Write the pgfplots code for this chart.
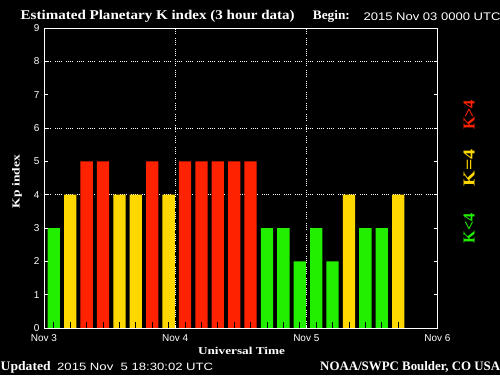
\documentclass[border=0pt]{standalone}
\usepackage{pgfplots}
\pgfplotsset{compat=1.18}
\usepackage{fontspec}
\setmainfont{Liberation Serif}
\setsansfont{Liberation Sans}
\definecolor{kgreen}{RGB}{34,238,0}
\definecolor{kyellow}{RGB}{255,216,0}
\definecolor{kred}{RGB}{255,34,0}
\pgfplotsset{gridl/.style={white, line width=0.9pt, dash pattern=on 0.9pt off 1.1pt on 0.9pt off 1.1pt on 0.9pt off 1.1pt on 0.9pt off 4pt}}
\begin{document}
\begin{tikzpicture}[x=1pt,y=1pt]
\fill[black] (0,0) rectangle (500,375);
\begin{axis}[
  at={(44pt,47pt)}, anchor=south west,
  scale only axis, width=393.5pt, height=300pt,
  xmin=0,xmax=24,ymin=0,ymax=9,
  axis on top,
  axis line style={white, line width=0.8pt},
  xtick={0,8,16,24}, xticklabels={Nov 3,Nov 4,Nov 5,Nov 6},
  ytick={0,...,9}, yticklabels={0,1,2,3,4,5,6,7,8,9},
  xtick pos=left, ytick pos=both,
  tick align=inside, major tick length=3.5pt,
  tick style={white, line width=0.8pt},
  ticklabel style={white, font=\sffamily\fontsize{10}{12}\selectfont},
  xticklabel style={yshift=-3pt},
  yticklabel style={xshift=-1pt},
  extra x ticks={0.6,1.6,2.6,3.6,4.6,5.6,6.6,7.6,8.6,9.6,10.6,11.6,12.6,13.6,14.6,15.6,16.6,17.6,18.6,19.6,20.6,21.6},
  extra x tick labels={},
  extra x tick style={tick style={black, line width=0.9pt}, major tick length=6pt},
]
\addplot[gridl, forget plot, mark=none] coordinates {(0,4)(24,4)};
\addplot[gridl, forget plot, mark=none] coordinates {(0,6)(24,6)};
\addplot[gridl, forget plot, mark=none] coordinates {(0,8)(24,8)};
\addplot[gridl, forget plot, mark=none] coordinates {(8,0)(8,9)};
\addplot[gridl, forget plot, mark=none] coordinates {(16,0)(16,9)};
\addplot[ybar, bar width=0.75, bar shift=0pt, fill=kgreen, draw=none] coordinates {(0.6,3)(13.6,3)(14.6,3)(15.6,2)(16.6,3)(17.6,2)(19.6,3)(20.6,3)};
\addplot[ybar, bar width=0.75, bar shift=0pt, fill=kyellow, draw=none] coordinates {(1.6,4)(4.6,4)(5.6,4)(7.6,4)(18.6,4)(21.6,4)};
\addplot[ybar, bar width=0.75, bar shift=0pt, fill=kred, draw=none] coordinates {(2.6,5)(3.6,5)(6.6,5)(8.6,5)(9.6,5)(10.6,5)(11.6,5)(12.6,5)};
\end{axis}
\node[anchor=base west, inner sep=0, white] at (20.5,355.7) {\resizebox{274pt}{9.3pt}{\bfseries Estimated Planetary K index (3 hour data)}};
\node[anchor=base west, inner sep=0, white] at (312.7,355.7) {\resizebox{37pt}{9pt}{\bfseries Begin:}};
\node[anchor=base west, inner sep=0, white] at (363.3,354) {\resizebox{137pt}{7.7pt}{\sffamily 2015 Nov 03 0000 UTC}};
\node[anchor=base west, inner sep=0, white] at (0.5,4.3) {\resizebox{50pt}{9pt}{\bfseries Updated}};
\node[anchor=base west, inner sep=0, white] at (57,4.3) {\resizebox{156pt}{7.4pt}{\sffamily 2015 Nov\ \ 5 18:30:02 UTC}};
\node[anchor=base west, inner sep=0, white] at (320,4.3) {\resizebox{180pt}{9pt}{\bfseries NOAA/SWPC Boulder, CO USA}};
\node[anchor=base, inner sep=0, white] at (241.5,21) {\resizebox{87pt}{7.3pt}{\bfseries Universal Time}};
\node[rotate=90, inner sep=0, white] at (17,193.5) {\resizebox{53pt}{7.5pt}{\bfseries Kp index}};
\node[rotate=90, inner sep=0, kred] at (469,260) {\resizebox{30pt}{11pt}{\bfseries K>4}};
\node[rotate=90, inner sep=0, kyellow] at (469,207) {\resizebox{37pt}{11pt}{\bfseries K=4}};
\node[rotate=90, inner sep=0, kgreen] at (469,147) {\resizebox{30pt}{11pt}{\bfseries K<4}};
\pgfresetboundingbox
\path[use as bounding box] (0,0) rectangle (500,375);
\end{tikzpicture}
\end{document}
